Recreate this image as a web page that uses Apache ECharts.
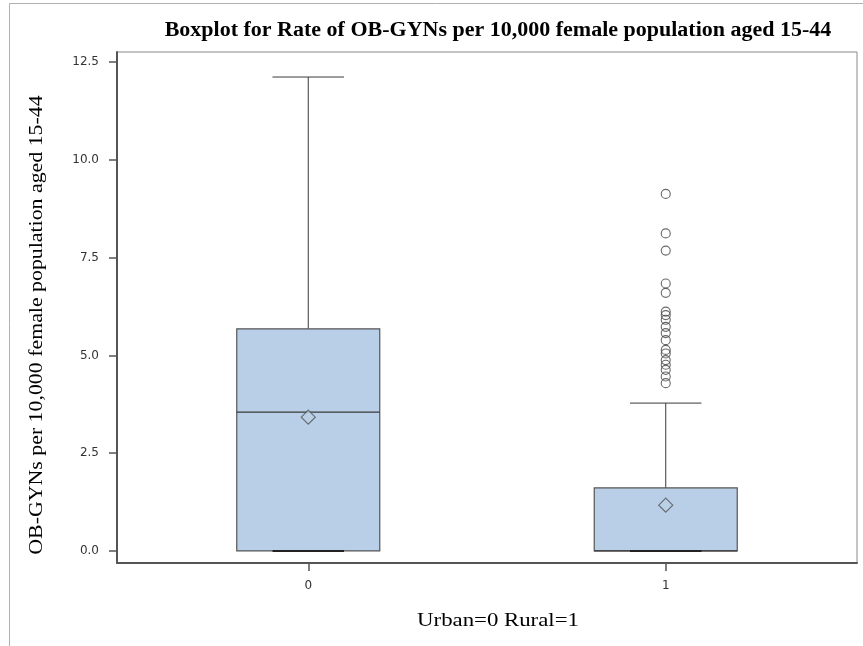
<!DOCTYPE html>
<html>
<head>
<meta charset="utf-8">
<script src="https://cdn.jsdelivr.net/npm/echarts@6/dist/echarts.min.js"></script>
<style>
  html, body { margin: 0; padding: 0; background: #fff; }
  #chart { width: 863px; height: 646px; }
</style>
</head>
<body>
<div id="chart"></div>
<script>
// Group positions and tick labels
const groups = [0, 1];
const groupLabels = ['0', '1'];

// Five-number summaries per group
const whiskerLow = [0, 0];
const q1 = [0, 0];
const median = [3.55, 0];
const q3 = [5.68, 1.61];
const whiskerHigh = [12.12, 3.78];
const means = [3.42, 1.17];

// Outliers (rural group)
const outliersRural = [9.13, 8.12, 7.68, 6.84, 6.60, 6.12, 6.03, 5.91, 5.73, 5.57,
  5.39, 5.14, 5.05, 4.88, 4.76, 4.63, 4.46, 4.29];

// Y-axis ticks
const yTicks = [0, 2.5, 5, 7.5, 10, 12.5];

const boxFill = '#b9cfe7';
const lineColor = '#3a3a3a';

const boxData = groups.map((g, i) => [g, whiskerLow[i], q1[i], median[i], q3[i], whiskerHigh[i]]);
const meanData = groups.map((g, i) => [g, means[i]]);
const outlierData = outliersRural.map(v => [1, v]);

function renderBox(params, api) {
  const x = api.value(0);
  const low = api.coord([x, api.value(1)]);
  const pq1 = api.coord([x, api.value(2)]);
  const pmed = api.coord([x, api.value(3)]);
  const pq3 = api.coord([x, api.value(4)]);
  const high = api.coord([x, api.value(5)]);
  const halfBox = api.size([0.4, 0])[0] / 2;
  const halfCap = halfBox / 2;
  const cx = pq1[0];
  const lineStyle = { stroke: lineColor, lineWidth: 1 };
  return {
    type: 'group',
    children: [
      { type: 'line', shape: { x1: cx, y1: high[1], x2: cx, y2: pq3[1] }, style: lineStyle },
      { type: 'line', shape: { x1: cx, y1: pq1[1], x2: cx, y2: low[1] }, style: lineStyle },
      { type: 'rect', shape: { x: cx - halfBox, y: pq3[1], width: halfBox * 2, height: pq1[1] - pq3[1] },
        style: { fill: boxFill, stroke: '#555', lineWidth: 1.2 } },
      { type: 'line', shape: { x1: cx - halfBox, y1: pmed[1], x2: cx + halfBox, y2: pmed[1] }, style: { stroke: lineColor, lineWidth: 1.2 } },
      { type: 'line', shape: { x1: cx - halfCap, y1: high[1], x2: cx + halfCap, y2: high[1] }, style: lineStyle },
      { type: 'line', shape: { x1: cx - halfCap, y1: low[1], x2: cx + halfCap, y2: low[1] }, style: { stroke: '#222', lineWidth: 2 } }
    ]
  };
}

const chart = echarts.init(document.getElementById('chart'), null, { renderer: 'canvas' });

chart.setOption({
  animation: false,
  backgroundColor: '#fff',
  grid: {
    left: 117, right: 6, top: 52, bottom: 83,
    show: true, borderColor: '#8a8a8a', borderWidth: 1, backgroundColor: '#fff'
  },
  xAxis: {
    type: 'value',
    min: -0.535, max: 1.535,
    splitLine: { show: false },
    axisLine: { show: true, onZero: false, lineStyle: { color: '#555', width: 2 } },
    axisTick: { show: true, customValues: groups, length: 8, lineStyle: { color: '#555', width: 1.5 } },
    axisLabel: {
      customValues: groups,
      formatter: v => groupLabels[groups.indexOf(v)],
      color: '#333', fontFamily: 'DejaVu Sans', fontSize: 12, margin: 17
    }
  },
  yAxis: {
    type: 'value',
    min: -0.31, max: 12.76,
    splitLine: { show: false },
    axisLine: { show: true, onZero: false, lineStyle: { color: '#555', width: 2 } },
    axisTick: { show: true, customValues: yTicks, length: 8, lineStyle: { color: '#555', width: 1.5 } },
    axisLabel: {
      customValues: yTicks,
      formatter: v => v.toFixed(1),
      color: '#333', fontFamily: 'DejaVu Sans', fontSize: 12, margin: 18
    }
  },
  graphic: [
    { type: 'line', shape: { x1: 9.5, y1: 3.5, x2: 863, y2: 3.5 }, style: { stroke: '#b0b0b0', lineWidth: 1 } },
    { type: 'line', shape: { x1: 9.5, y1: 3.5, x2: 9.5, y2: 646 }, style: { stroke: '#b0b0b0', lineWidth: 1 } },
    {
      type: 'text', x: 498, y: 31, scaleX: 1.1,
      style: { text: 'Boxplot for Rate of OB-GYNs per 10,000 female population aged 15-44',
        x: 0, y: 0, align: 'center', verticalAlign: 'middle',
        font: 'bold 20px "Liberation Serif"', fill: '#000' }
    },
    {
      type: 'text', x: 498, y: 621, scaleX: 1.2,
      style: { text: 'Urban=0 Rural=1', x: 0, y: 0, align: 'center', verticalAlign: 'middle',
        font: '19px "Liberation Serif"', fill: '#000' }
    },
    {
      type: 'text', x: 37, y: 325, rotation: Math.PI / 2, scaleX: 1.15,
      style: { text: 'OB-GYNs per 10,000 female population aged 15-44', x: 0, y: 0,
        align: 'center', verticalAlign: 'middle', font: '19px "Liberation Serif"', fill: '#000' }
    }
  ],
  series: [
    {
      type: 'custom',
      renderItem: renderBox,
      data: boxData,
      encode: { x: 0, y: [1, 2, 3, 4, 5] },
      z: 2
    },
    {
      type: 'scatter',
      data: meanData,
      symbol: 'diamond',
      symbolSize: [14, 14],
      itemStyle: { color: boxFill, borderColor: '#555', borderWidth: 1.2 },
      z: 5
    },
    {
      type: 'scatter',
      data: outlierData,
      symbol: 'circle',
      symbolSize: 9,
      itemStyle: { color: 'rgba(255,255,255,0)', borderColor: '#444', borderWidth: 1.1 },
      z: 5
    }
  ]
});
</script>
</body>
</html>
